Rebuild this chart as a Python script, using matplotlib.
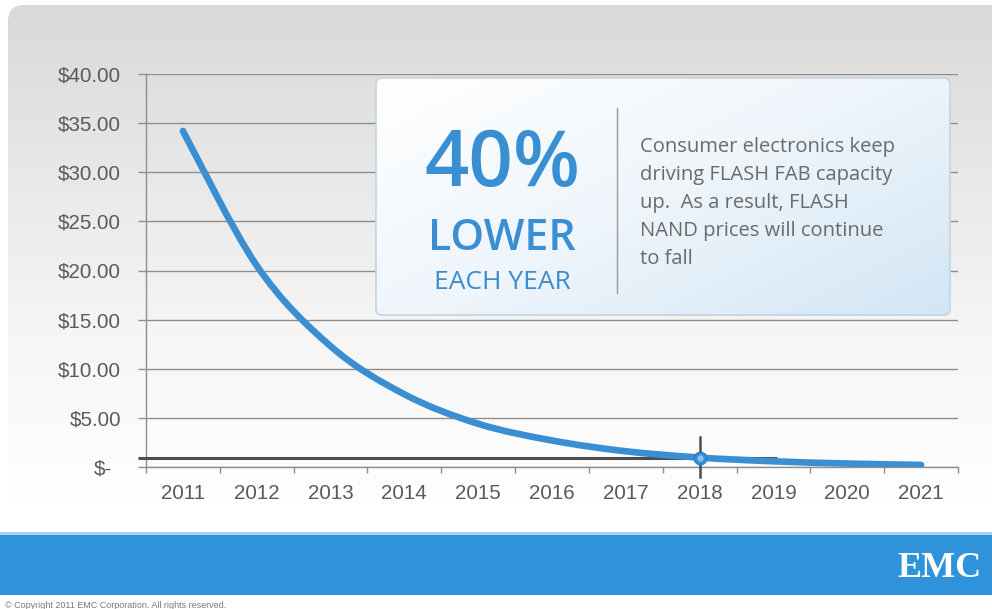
#!/usr/bin/env python3
"""Flash NAND price decline chart (EMC slide style)."""

import matplotlib
matplotlib.use('Agg')
import matplotlib.pyplot as plt
import numpy as np
from matplotlib.patches import FancyBboxPatch, Rectangle, PathPatch
from matplotlib.path import Path
from matplotlib.colors import LinearSegmentedColormap
from matplotlib.transforms import ScaledTranslation

# ── Data ──
years = ['2011', '2012', '2013', '2014', '2015', '2016',
         '2017', '2018', '2019', '2020', '2021']
price = [34.2, 20.5, 12.3, 7.4, 4.4, 2.7, 1.6, 0.96, 0.58, 0.35, 0.21]
y_ticks = [0, 5, 10, 15, 20, 25, 30, 35, 40]
y_labels = ['$-', '$5.00', '$10.00', '$15.00', '$20.00', '$25.00',
            '$30.00', '$35.00', '$40.00']
marker_year = 7      # index of 2018
marker_value = 0.96

BLUE = '#3a8fd2'
GRID = '#8e8e8e'
TXT = '#5a5a5a'
DARK = '#4d4d4d'

W, H = 992, 609
fig = plt.figure(figsize=(W / 100, H / 100), dpi=100)

# ── Background (pixel coordinates) ──
bg = fig.add_axes([0, 0, 1, 1], zorder=-1)
bg.set_xlim(0, W)
bg.set_ylim(H, 0)
bg.axis('off')

panel = FancyBboxPatch((8, 5), 1050, 520, boxstyle='round,pad=0,rounding_size=16',
                       facecolor='none', edgecolor='none')
bg.add_patch(panel)
grad_cmap = LinearSegmentedColormap.from_list('g', ['#d9d9d9', '#e8e8e8', '#f6f6f6', '#ffffff'])
grad = np.linspace(0, 1, 256).reshape(-1, 1)
im = bg.imshow(grad, cmap=grad_cmap, aspect='auto', extent=(0, W, 505, 5))
im.set_clip_path(panel)

# blue footer band
bg.add_patch(Rectangle((0, 532), W, 4, facecolor='#a9d1ef', edgecolor='none'))
bg.add_patch(Rectangle((0, 535), W, 60, facecolor='#2e93db', edgecolor='none'))
bg.text(897, 577, 'EMC', color='white', fontsize=26, fontweight='bold',
        family='Liberation Serif', ha='left', va='baseline')
bg.text(5, 605, '\u00a9 Copyright 2011 EMC Corporation. All rights reserved.',
        color='#7a7a7a', fontsize=6.5, family='Liberation Sans', va='center')

# ── Main chart ──
ax = fig.add_axes([146 / W, 1 - 467 / H, (958 - 146) / W, (467 - 74) / H])
ax.set_facecolor('none')
x = np.arange(len(years))
ax.set_xlim(-0.5, len(years) - 0.5)
ax.set_ylim(0, 40)

ax.set_yticks(y_ticks)
ax.set_yticklabels(y_labels)
ax.set_xticks(x)
ax.set_xticklabels(years)
ax.set_xticks(np.arange(-0.5, len(years)), minor=True)
ax.tick_params(axis='y', length=6, width=1, color=GRID, pad=12,
               labelsize=14.8, labelcolor=TXT)
ax.tick_params(axis='x', which='major', length=0, pad=12.5, labelsize=14.8, labelcolor=TXT)
ax.tick_params(axis='x', which='minor', length=4.5, width=1, color=GRID, direction='out')
for lab in ax.get_yticklabels() + ax.get_xticklabels():
    lab.set_family('Liberation Sans')
# the zero label sits a little further left (accounting format)
zero_lab = ax.get_yticklabels()[0]
zero_lab.set_transform(zero_lab.get_transform() + ScaledTranslation(-9 / 100, 0, fig.dpi_scale_trans))
ax.grid(axis='y', color=GRID, linewidth=1)
for side in ('top', 'right'):
    ax.spines[side].set_visible(False)
for side in ('left', 'bottom'):
    ax.spines[side].set_color(GRID)
    ax.spines[side].set_linewidth(1)

# crosshair at 2018
ax.plot([-0.61, 8.05], [marker_value, marker_value], color=DARK, lw=2.2,
        clip_on=False, zorder=3, solid_capstyle='butt')
ax.plot([marker_year, marker_year], [-1.0, 3.1], color=DARK, lw=1.8,
        clip_on=False, zorder=3)

# smoothed price curve (Bezier through the data points)
pts = np.column_stack([x, price]).astype(float)
verts = [pts[0]]
codes = [Path.MOVETO]
for i in range(len(pts) - 1):
    p0 = pts[i - 1] if i > 0 else pts[i]
    p1, p2 = pts[i], pts[i + 1]
    p3 = pts[i + 2] if i + 2 < len(pts) else pts[i + 1]
    verts += [p1 + (p2 - p0) / 6, p2 - (p3 - p1) / 6, p2]
    codes += [Path.CURVE4] * 3
ax.add_patch(PathPatch(Path(verts, codes), facecolor='none', edgecolor=BLUE,
                       lw=4.8, capstyle='round', joinstyle='round', zorder=4))
ax.plot([marker_year], [marker_value], 'o', ms=9, color=BLUE,
        markeredgecolor='#2a7fc4', zorder=5, clip_on=False)
ax.plot([marker_year], [marker_value], 'o', ms=3.5, color='#8cc4ee', zorder=6, clip_on=False)

# ── Call-out box ──
ov = fig.add_axes([0, 0, 1, 1], zorder=5)
ov.set_xlim(0, W)
ov.set_ylim(H, 0)
ov.axis('off')
box = FancyBboxPatch((376, 78), 574, 237, boxstyle='round,pad=0,rounding_size=6',
                     facecolor='none', edgecolor='#c5d3de', linewidth=1.2)
ov.add_patch(box)
gx, gy = np.meshgrid(np.linspace(0, 1, 200), np.linspace(0, 1, 100))
box_cmap = LinearSegmentedColormap.from_list('b', ['#ffffff', '#eef5fb', '#d3e6f5'])
bim = ov.imshow(0.55 * gx + 0.45 * gy, cmap=box_cmap, aspect='auto',
                extent=(376, 950, 315, 78), vmin=0, vmax=1)
bim.set_clip_path(box)
ov.plot([617, 617], [108, 293], color='#9a9a9a', lw=1)

big_font = 'Open Sans'
ov.text(502, 186, '40%', color=BLUE, fontsize=56, family=big_font,
        fontweight='semibold', ha='center', va='baseline')
ov.text(502, 250, 'LOWER', color=BLUE, fontsize=31, family=big_font,
        fontweight='semibold', ha='center', va='baseline')
ov.text(502, 289, 'EACH YEAR', color='#3c8ccb', fontsize=19, family=big_font,
        ha='center', va='baseline')
body = ['Consumer electronics keep', 'driving FLASH FAB capacity',
        'up.  As a result, FLASH', 'NAND prices will continue', 'to fall']
for i, line in enumerate(body):
    ov.text(640, 152 + 28 * i, line, color='#6a6a6a', fontsize=14.5,
            family=big_font, ha='left', va='baseline')

fig.savefig('out.png', dpi=100)
print('Saved out.png')
